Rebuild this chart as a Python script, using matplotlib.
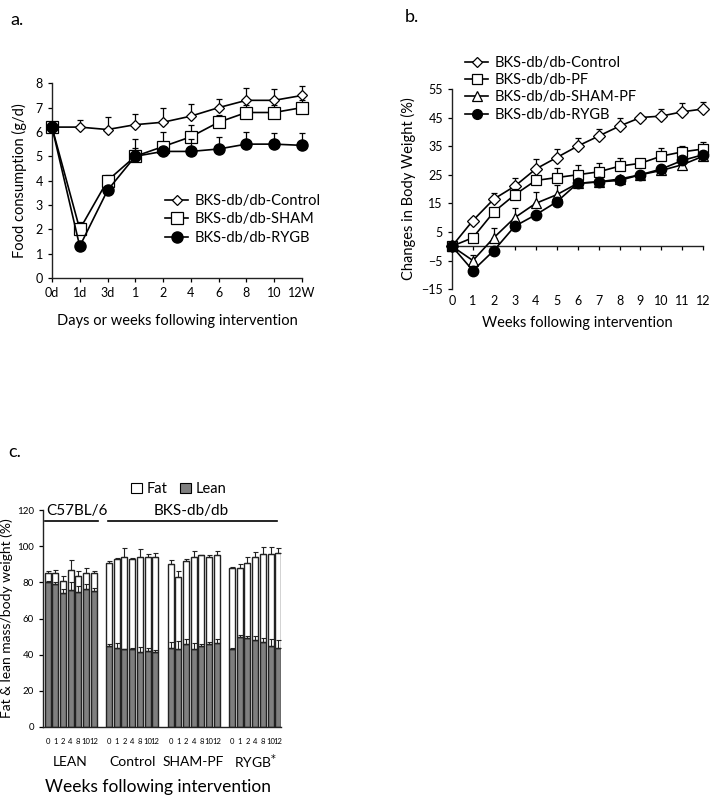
import matplotlib
matplotlib.use("Agg")
import matplotlib.pyplot as plt
import numpy as np
from matplotlib.lines import Line2D
from matplotlib.patches import Patch

plt.rcParams['font.family'] = ['Lato', 'DejaVu Sans']

# ---------------- Panel a data ----------------
a_labels = ['0d', '1d', '3d', '1', '2', '4', '6', '8', '10', '12W']
a_control = [6.2, 6.2, 6.1, 6.3, 6.4, 6.65, 7.0, 7.3, 7.3, 7.5]
a_control_err = [0.2, 0.3, 0.5, 0.45, 0.6, 0.5, 0.35, 0.5, 0.45, 0.4]
a_sham = [6.2, 2.0, 4.0, 5.0, 5.4, 5.8, 6.4, 6.8, 6.8, 7.0]
a_sham_err = [0.2, 0.3, 0.25, 0.7, 0.6, 0.5, 0.3, 0.3, 0.3, 0.3]
a_rygb = [6.2, 1.3, 3.6, 5.0, 5.2, 5.2, 5.3, 5.5, 5.5, 5.45]
a_rygb_err = [0.1, 0.1, 0.1, 0.35, 0.2, 0.5, 0.5, 0.5, 0.45, 0.5]

# ---------------- Panel b data ----------------
b_weeks = list(range(13))
b_control = [0, 9, 16.5, 21, 27, 31, 35, 38.5, 42, 45, 45.5, 47, 48]
b_control_err = [0, 1, 2, 3, 3.5, 3, 3, 2.5, 3, 0.5, 2.5, 3, 2.5]
b_pf = [0, 3, 12, 18, 23, 24, 25, 26, 28, 29, 31.5, 33, 34]
b_pf_err = [0, 0.5, 1, 2, 1, 3.5, 3.5, 3, 3, 1, 3, 2, 2.5]
b_shampf = [0, -5, 3, 10, 15, 18, 22, 22.5, 23.5, 25, 26.5, 28.5, 31.5]
b_shampf_err = [0, 2, 3.5, 3.5, 4, 3.5, 1, 1, 1, 1, 1, 1, 1]
b_rygb = [0, -8.5, -1.5, 7, 11, 15.5, 22, 22.5, 23, 25, 27, 30, 32]
b_rygb_err = [0, 1, 1, 1, 1, 1, 1, 1, 1, 1, 1, 1, 1]

# ---------------- Panel c data ----------------
c_groups = ['LEAN', 'Control', 'SHAM-PF', 'RYGB$^{*}$']
c_weeks = ['0', '1', '2', '4', '8', '10', '12']
c_total = [
    [85, 85.5, 81, 87, 83.5, 85.5, 85],
    [91, 93, 94, 93, 94, 94, 94],
    [90.5, 83, 92, 94, 95, 94, 95],
    [88, 88, 91, 94, 96, 95.5, 96.5],
]
c_total_err = [
    [1.5, 1.5, 2.5, 5.5, 3, 2.5, 1.5],
    [1, 0.5, 5, 0.5, 4.5, 1.5, 2.5],
    [2, 3.5, 1, 3.5, 0.3, 1, 2.5],
    [0.5, 2, 3, 3, 3.5, 4, 2.5],
]
c_lean = [
    [80, 79, 74, 76, 75, 76.5, 75.5],
    [45, 44, 43, 43, 41.5, 42, 41.5],
    [44, 43, 46, 43, 45, 46, 46.5],
    [43, 50, 49, 48, 47, 45, 44],
]
c_lean_err = [
    [1, 1.5, 2.5, 4.5, 3, 2.5, 1.5],
    [1, 2.5, 0.3, 0.5, 3, 1.5, 1],
    [3, 4.5, 2.5, 3.5, 1, 1, 2],
    [0.5, 1, 1.5, 2.5, 2.5, 3.5, 4],
]

fig = plt.figure(figsize=(7.14, 8.01), dpi=100)

def style_axes(ax):
    for s in ['top', 'right']:
        ax.spines[s].set_visible(False)
    for s in ['left', 'bottom']:
        ax.spines[s].set_linewidth(1.0)
        ax.spines[s].set_color('#222222')

# ---------------- Panel a ----------------
axa = fig.add_axes([0.0728, 0.653, 0.350, 0.243])
style_axes(axa)
xa = np.arange(len(a_labels))
common = dict(color='black', lw=1.2, capsize=2.5, elinewidth=0.9, capthick=0.9, clip_on=False)
axa.errorbar(xa, a_control, yerr=[np.zeros(len(xa)), a_control_err], marker='D', ms=5,
             mfc='white', mec='black', mew=0.9, zorder=3, **common)
axa.errorbar(xa, a_sham, yerr=[np.zeros(len(xa)), a_sham_err], marker='s', ms=8,
             mfc='white', mec='black', mew=0.9, zorder=4, **common)
axa.errorbar(xa, a_rygb, yerr=[np.zeros(len(xa)), a_rygb_err], marker='o', ms=8,
             mfc='black', mec='black', zorder=5, **common)
axa.set_xlim(0, 9)
axa.set_ylim(0, 8)
axa.set_xticks(xa)
axa.set_xticklabels(a_labels)
axa.set_yticks(range(0, 9))
axa.tick_params(labelsize=9, length=3, width=0.9, direction='out')
axa.set_ylabel('Food consumption (g/d)', fontsize=10.5, labelpad=6)
axa.set_xlabel('Days or weeks following intervention', fontsize=10.5, labelpad=11)
h = [Line2D([], [], color='black', lw=1.2, marker='D', ms=5, mfc='white', mew=0.9),
     Line2D([], [], color='black', lw=1.2, marker='s', ms=8, mfc='white', mew=0.9),
     Line2D([], [], color='black', lw=1.2, marker='o', ms=8, mfc='black')]
axa.legend(h, ['BKS-db/db-Control', 'BKS-db/db-SHAM', 'BKS-db/db-RYGB'],
           loc='upper left', bbox_to_anchor=(165/714, 1 - 194/801), bbox_transform=fig.transFigure,
           frameon=False, fontsize=10.5, handlelength=1.6, handletextpad=0.4,
           labelspacing=0.3, borderpad=0, borderaxespad=0)
fig.text(10/714, 1 - 20/801, 'a.', fontsize=13, va='center', ha='left')

# ---------------- Panel b ----------------
axb = fig.add_axes([0.633, 0.639, 0.352, 0.250])
style_axes(axb)
axb.spines['bottom'].set_position(('data', 0))
xb = np.array(b_weeks)
z = np.zeros(len(xb))
axb.errorbar(xb, b_control, yerr=[z, b_control_err], marker='D', ms=6, mfc='white',
             mec='black', mew=0.9, zorder=3, **common)
axb.errorbar(xb, b_pf, yerr=[z, b_pf_err], marker='s', ms=7.5, mfc='white',
             mec='black', mew=0.9, zorder=4, **common)
axb.errorbar(xb, b_shampf, yerr=[z, b_shampf_err], marker='^', ms=7.5, mfc='white',
             mec='black', mew=0.9, zorder=5, **common)
axb.errorbar(xb, b_rygb, yerr=[z, b_rygb_err], marker='o', ms=7.5, mfc='black',
             mec='black', zorder=6, **common)
axb.set_xlim(0, 12)
axb.set_ylim(-15, 55)
axb.set_xticks(xb)
axb.set_yticks(range(-15, 56, 10))
axb.tick_params(labelsize=9, length=3, width=0.9, direction='out')
axb.tick_params(axis='x', pad=32)
axb.set_ylabel('Changes in Body Weight (%)', fontsize=10.5, labelpad=4)
axb.text(0.5, -0.17, 'Weeks following intervention', transform=axb.transAxes,
         fontsize=10.5, ha='center', va='center')
hb = [Line2D([], [], color='black', lw=1.2, marker='D', ms=5, mfc='white', mew=0.9),
      Line2D([], [], color='black', lw=1.2, marker='s', ms=7, mfc='white', mew=0.9),
      Line2D([], [], color='black', lw=1.2, marker='^', ms=7, mfc='white', mew=0.9),
      Line2D([], [], color='black', lw=1.2, marker='o', ms=7, mfc='black')]
axb.legend(hb, ['BKS-db/db-Control', 'BKS-db/db-PF', 'BKS-db/db-SHAM-PF', 'BKS-db/db-RYGB'],
           loc='upper left', bbox_to_anchor=(465/714, 1 - 56/801), bbox_transform=fig.transFigure,
           frameon=False, fontsize=10.5, handlelength=1.6, handletextpad=0.4,
           labelspacing=0.22, borderpad=0, borderaxespad=0)
fig.text(405/714, 1 - 17/801, 'b.', fontsize=13, va='center', ha='left')

# ---------------- Panel c ----------------
axc = fig.add_axes([0.060, 0.0924, 0.334, 0.2706])
style_axes(axc)
bw = 0.78
tick_pos = []
tick_lab = []
for g in range(len(c_groups)):
    xs = g * 8 + np.arange(len(c_weeks))
    lean = np.array(c_lean[g])
    total = np.array(c_total[g])
    fat = total - lean
    zz = np.zeros(len(xs))
    axc.bar(xs, lean, bw, color='#7f7f7f', edgecolor='#222222', lw=1.0,
            yerr=[zz, c_lean_err[g]], capsize=1.8,
            error_kw=dict(elinewidth=0.8, capthick=0.8, ecolor='#222222'), zorder=2)
    axc.bar(xs, fat, bw, bottom=lean, color='white', edgecolor='#222222', lw=1.0,
            yerr=[zz, c_total_err[g]], capsize=1.8,
            error_kw=dict(elinewidth=0.8, capthick=0.8, ecolor='#222222'), zorder=2)
    tick_pos.extend(xs)
    tick_lab.extend(c_weeks)
axc.set_xlim(-0.61, 30.4)
axc.set_ylim(0, 120)
axc.set_yticks(range(0, 121, 20))
axc.set_xticks(tick_pos)
axc.set_xticklabels(tick_lab)
axc.tick_params(axis='y', labelsize=7, length=3, width=0.9, direction='out')
axc.tick_params(axis='x', labelsize=5.5, length=0, pad=8)
axc.set_ylabel('Fat & lean mass/body weight (%)', fontsize=10, labelpad=3)

tr = axc.get_xaxis_transform()
group_centers = [3, 11, 19, 27]
for gc, name in zip(group_centers, c_groups):
    axc.text(gc, -0.161, name, transform=tr, ha='center', va='center', fontsize=10)
axc.text(14.4, -0.276, 'Weeks following intervention', transform=tr, ha='center',
         va='center', fontsize=12.5)

# group brackets
axc.plot([-0.3, 6.6], [114, 114], color='black', lw=1.2, clip_on=False)
axc.plot([7.9, 29.8], [114, 114], color='black', lw=1.2, clip_on=False)
axc.text(3.8, 115.5, 'C57BL/6', ha='center', va='bottom', fontsize=11)
axc.text(18.7, 115.5, 'BKS-db/db', ha='center', va='bottom', fontsize=11)

hc = [Patch(facecolor='white', edgecolor='black', lw=0.8),
      Patch(facecolor='#7f7f7f', edgecolor='black', lw=0.8)]
axc.legend(hc, ['Fat', 'Lean'], ncol=2, loc='center left',
           bbox_to_anchor=(131/714, 1 - 489/801), bbox_transform=fig.transFigure,
           frameon=False, fontsize=10.5, handlelength=0.75, handleheight=0.75,
           handletextpad=0.3, columnspacing=0.9, borderpad=0, borderaxespad=0)
fig.text(8/714, 1 - 452/801, 'c.', fontsize=13, va='center', ha='left')

fig.savefig('out.png', dpi=100)
